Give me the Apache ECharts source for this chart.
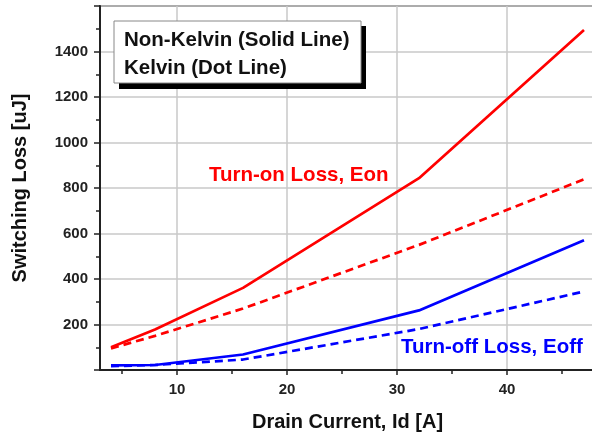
<!DOCTYPE html>
<html>
<head>
<meta charset="utf-8">
<script src="https://cdn.jsdelivr.net/npm/echarts@6/dist/echarts.min.js"></script>
<style>html,body{margin:0;padding:0;background:#fff}#c{width:592px;height:433px}</style>
</head>
<body>
<div id="c"></div>
<script>
// Drain current [A]
const current = [4, 8, 16, 32, 47];
// Switching loss [uJ]
const eonNonKelvin = [100, 178, 361, 843, 1495];
const eonKelvin = [95, 150, 270, 550, 838];
const eoffNonKelvin = [20, 22, 68, 262, 570];
const eoffKelvin = [17, 22, 46, 180, 345];
// Ticks
const xLabelTicks = [10, 20, 30, 40];
const xMinorTicks = [5, 15, 25, 35, 45];
const legendLines = ['Non-Kelvin (Solid Line)', 'Kelvin (Dot Line)'];
const onLabel = 'Turn-on Loss, Eon';
const offLabel = 'Turn-off Loss, Eoff';

const pairs = (ys) => current.map((x, i) => [x, ys[i]]);
const FONT = 'Liberation Sans, Arial, sans-serif';

const chart = echarts.init(document.getElementById('c'), null, {renderer: 'canvas'});
const lineSeries = (name, ys, color, dashed) => ({
  name, type: 'line', xAxisIndex: 0, data: pairs(ys), showSymbol: false, symbol: 'none',
  lineStyle: {color, width: 2.7, type: dashed ? [8, 5] : 'solid'}, z: 5, animation: false
});

chart.setOption({
  animation: false,
  grid: {left: 100, top: 6, right: -3, bottom: 63, show: true, borderColor: '#222', borderWidth: 1.5, containLabel: false, outerBoundsMode: 'none'},
  xAxis: [{
    type: 'value', min: 3, max: 48, position: 'bottom',
    name: 'Drain Current, Id [A]', nameLocation: 'middle', nameGap: 42,
    nameTextStyle: {fontFamily: FONT, fontWeight: 'bold', fontSize: 20, color: '#111'},
    axisLine: {show: true, lineStyle: {color: '#222', width: 2}},
    axisTick: {show: true, inside: false, length: 5, customValues: xLabelTicks, lineStyle: {color: '#222', width: 1.5}},
    axisLabel: {customValues: xLabelTicks, margin: 12, fontFamily: FONT, fontWeight: 'bold', fontSize: 15, color: '#222'},
    splitLine: {show: true, lineStyle: {color: '#c8c8c8', width: 1.5}}
  }, {
    type: 'value', min: 3, max: 48, position: 'bottom', offset: 0,
    axisLine: {show: false},
    axisTick: {show: true, inside: false, length: 4, customValues: xMinorTicks, lineStyle: {color: '#222', width: 1.5}},
    axisLabel: {show: false},
    splitLine: {show: false}
  }],
  yAxis: {
    type: 'value', min: 0, max: 1600, interval: 200,
    name: 'Switching Loss [uJ]', nameLocation: 'middle', nameGap: 70,
    nameTextStyle: {fontFamily: FONT, fontWeight: 'bold', fontSize: 20, color: '#111'},
    axisLine: {show: true, lineStyle: {color: '#222', width: 2}},
    axisTick: {show: true, inside: false, length: 6, lineStyle: {color: '#222', width: 1.5}},
    minorTick: {show: true, splitNumber: 2, length: 4, lineStyle: {color: '#222', width: 1.5}},
    axisLabel: {showMinLabel: false, showMaxLabel: false, margin: 12, formatter: (v) => String(v), fontFamily: FONT, fontWeight: 'bold', fontSize: 15, color: '#222'},
    splitLine: {show: true, lineStyle: {color: '#c8c8c8', width: 1.5}}
  },
  series: [
    lineSeries('Eon Non-Kelvin', eonNonKelvin, '#ff0000', false),
    lineSeries('Eon Kelvin', eonKelvin, '#ff0000', true),
    lineSeries('Eoff Non-Kelvin', eoffNonKelvin, '#0000ff', false),
    lineSeries('Eoff Kelvin', eoffKelvin, '#0000ff', true)
  ],
  graphic: [
    {type: 'rect', shape: {x: 119, y: 26, width: 247, height: 63}, style: {fill: '#000'}, z: 10},
    {type: 'rect', shape: {x: 114, y: 21, width: 247, height: 62}, style: {fill: '#fff', stroke: '#888', lineWidth: 1}, z: 11},
    {type: 'text', x: 124, y: 40, style: {text: legendLines[0], font: 'bold 20.5px ' + FONT, fill: '#111', verticalAlign: 'middle'}, z: 12},
    {type: 'text', x: 124, y: 68, style: {text: legendLines[1], font: 'bold 20.5px ' + FONT, fill: '#111', verticalAlign: 'middle'}, z: 12},
    {type: 'text', x: 209, y: 175, style: {text: onLabel, font: 'bold 20.5px ' + FONT, fill: '#ff0000', verticalAlign: 'middle'}, z: 12},
    {type: 'text', x: 401, y: 347, style: {text: offLabel, font: 'bold 20.5px ' + FONT, fill: '#0000ff', verticalAlign: 'middle'}, z: 12}
  ]
});
</script>
</body>
</html>
